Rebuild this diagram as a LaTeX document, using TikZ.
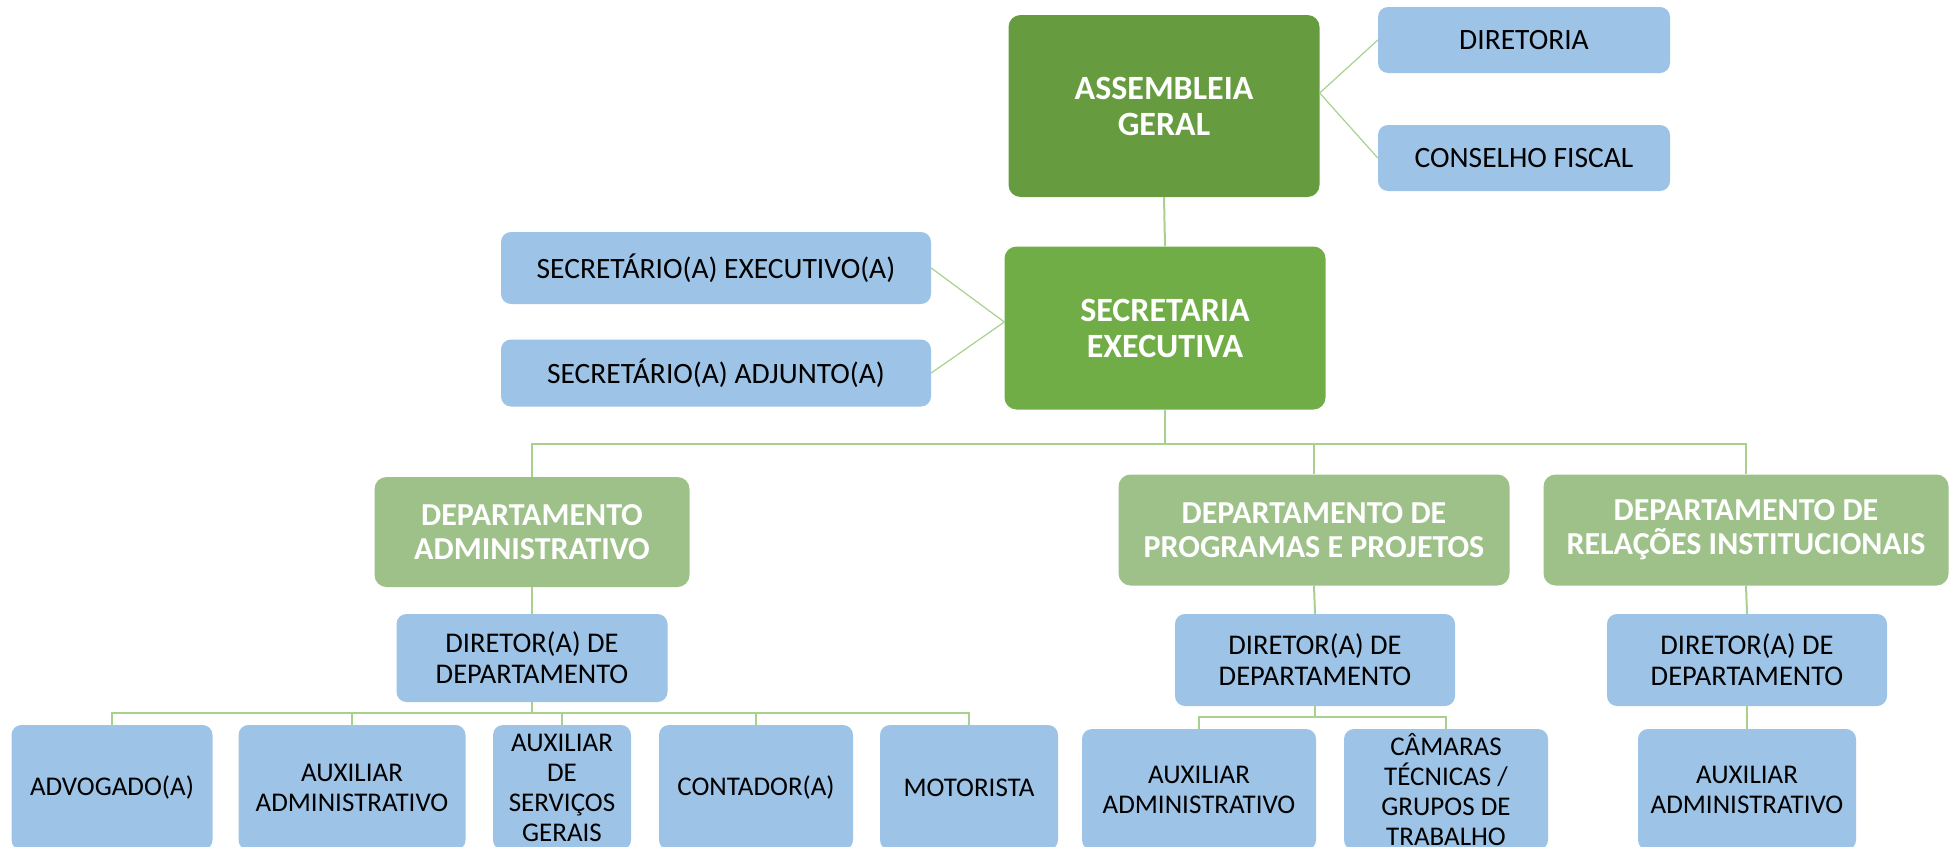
\documentclass[tikz,border=0pt]{standalone}
\usepackage{fontspec}
\setmainfont{Carlito}
\usepackage{tikz}

\definecolor{agreen}{HTML}{669C3F}
\definecolor{sgreen}{HTML}{71AD47}
\definecolor{dgreen}{HTML}{9DC189}
\definecolor{boxblue}{HTML}{9DC3E6}
\definecolor{linkgreen}{HTML}{A9D18E}

\begin{document}
\begin{tikzpicture}[x=1pt,y=-1pt,
  box/.style={fill=boxblue, rounded corners=10pt, inner sep=2pt, align=center, text=black, font=\fontsize{29.5}{31}\selectfont},
  mid/.style={box, font=\fontsize{28.5}{31}\selectfont},
  low/.style={box, font=\fontsize{27}{30}\selectfont},
  gbox/.style={rounded corners=12pt, inner sep=2pt, align=center, text=white, font=\bfseries\fontsize{34}{36}\selectfont},
  dept/.style={gbox, fill=dgreen, font=\bfseries\fontsize{32}{34}\selectfont},
  link/.style={draw=linkgreen, line width=2pt},
  thinlink/.style={draw=linkgreen, line width=1.2pt}]
\useasboundingbox (0,0) rectangle (1957,846);
\clip (0,0) rectangle (1957,846);

% top
\node[gbox, fill=agreen, minimum width=311pt, minimum height=182pt] (ag) at (1164,106) {ASSEMBLEIA\\GERAL};
\node[box, minimum width=292pt, minimum height=66pt] (dir) at (1524,40) {DIRETORIA};
\node[box, minimum width=292pt, minimum height=66pt] (cf) at (1524,158) {CONSELHO FISCAL};
\node[gbox, fill=sgreen, minimum width=321pt, minimum height=163pt] (secr) at (1165,328) {SECRETARIA\\EXECUTIVA};
\node[box, minimum width=430pt, minimum height=72pt] (sexec) at (716,268) {SECRETÁRIO(A) EXECUTIVO(A)};
\node[box, minimum width=430pt, minimum height=67pt] (sadj) at (716,373) {SECRETÁRIO(A) ADJUNTO(A)};

% departamentos
\node[dept, minimum width=315pt, minimum height=110pt] (dadm) at (532,532) {DEPARTAMENTO\\ADMINISTRATIVO};
\node[dept, minimum width=391pt, minimum height=111pt] (dprog) at (1314,530) {DEPARTAMENTO DE\\PROGRAMAS E PROJETOS};
\node[dept, minimum width=405pt, minimum height=111pt] (drel) at (1746,530) {DEPARTAMENTO DE\\RELAÇÕES INSTITUCIONAIS};

\node[mid, minimum width=271pt, minimum height=88pt] (diradm) at (532,658) {DIRETOR(A) DE\\DEPARTAMENTO};
\node[mid, minimum width=280pt, minimum height=92pt] (dirprog) at (1315,660) {DIRETOR(A) DE\\DEPARTAMENTO};
\node[mid, minimum width=280pt, minimum height=92pt] (dirrel) at (1747,660) {DIRETOR(A) DE\\DEPARTAMENTO};

% cargos
\node[low, minimum width=201pt, minimum height=125pt] (advog) at (112,787.5) {ADVOGADO(A)};
\node[low, minimum width=227pt, minimum height=125pt] (auxadm) at (352,787.5) {AUXILIAR\\ADMINISTRATIVO};
\node[low, minimum width=138pt, minimum height=125pt] (auxserv) at (562,787.5) {AUXILIAR\\DE\\SERVIÇOS\\GERAIS};
\node[low, minimum width=194pt, minimum height=125pt] (cont) at (756,787.5) {CONTADOR(A)};
\node[low, minimum width=178pt, minimum height=125pt] (mot) at (969,787.5) {MOTORISTA};
\node[low, minimum width=234pt, minimum height=121pt] (auxprog) at (1199,789.5) {AUXILIAR\\ADMINISTRATIVO};
\node[low, minimum width=204pt, minimum height=121pt] (cam) at (1446,789.5) {CÂMARAS\\TÉCNICAS /\\GRUPOS DE\\TRABALHO};
\node[low, minimum width=218pt, minimum height=121pt] (auxrel) at (1747,789.5) {AUXILIAR\\ADMINISTRATIVO};

% ligacoes
\draw[thinlink] ([yshift=13pt]ag.east) -- (dir.west);
\draw[thinlink] ([yshift=13pt]ag.east) -- (cf.west);
\draw[link] (ag.south) -- (secr.north);
\draw[thinlink] (sexec.east) -- ([yshift=6pt]secr.west);
\draw[thinlink] (sadj.east) -- ([yshift=6pt]secr.west);

\draw[link] (secr.south) -- ++(0,34) -| (dadm.north);
\draw[link] (secr.south) -- ++(0,34) -| (dprog.north);
\draw[link] (secr.south) -- ++(0,34) -| (drel.north);

\draw[link] (dadm.south) -- (diradm.north);
\draw[link] (dprog.south) -- (dirprog.north);
\draw[link] (drel.south) -- (dirrel.north);

\foreach \c in {advog,auxadm,auxserv,cont,mot}
  \draw[link] (diradm.south) -- ++(0,11) -| (\c.north);
\foreach \c in {auxprog,cam}
  \draw[link] (dirprog.south) -- ++(0,11) -| (\c.north);
\draw[link] (dirrel.south) -- (auxrel.north);
\end{tikzpicture}
\end{document}
